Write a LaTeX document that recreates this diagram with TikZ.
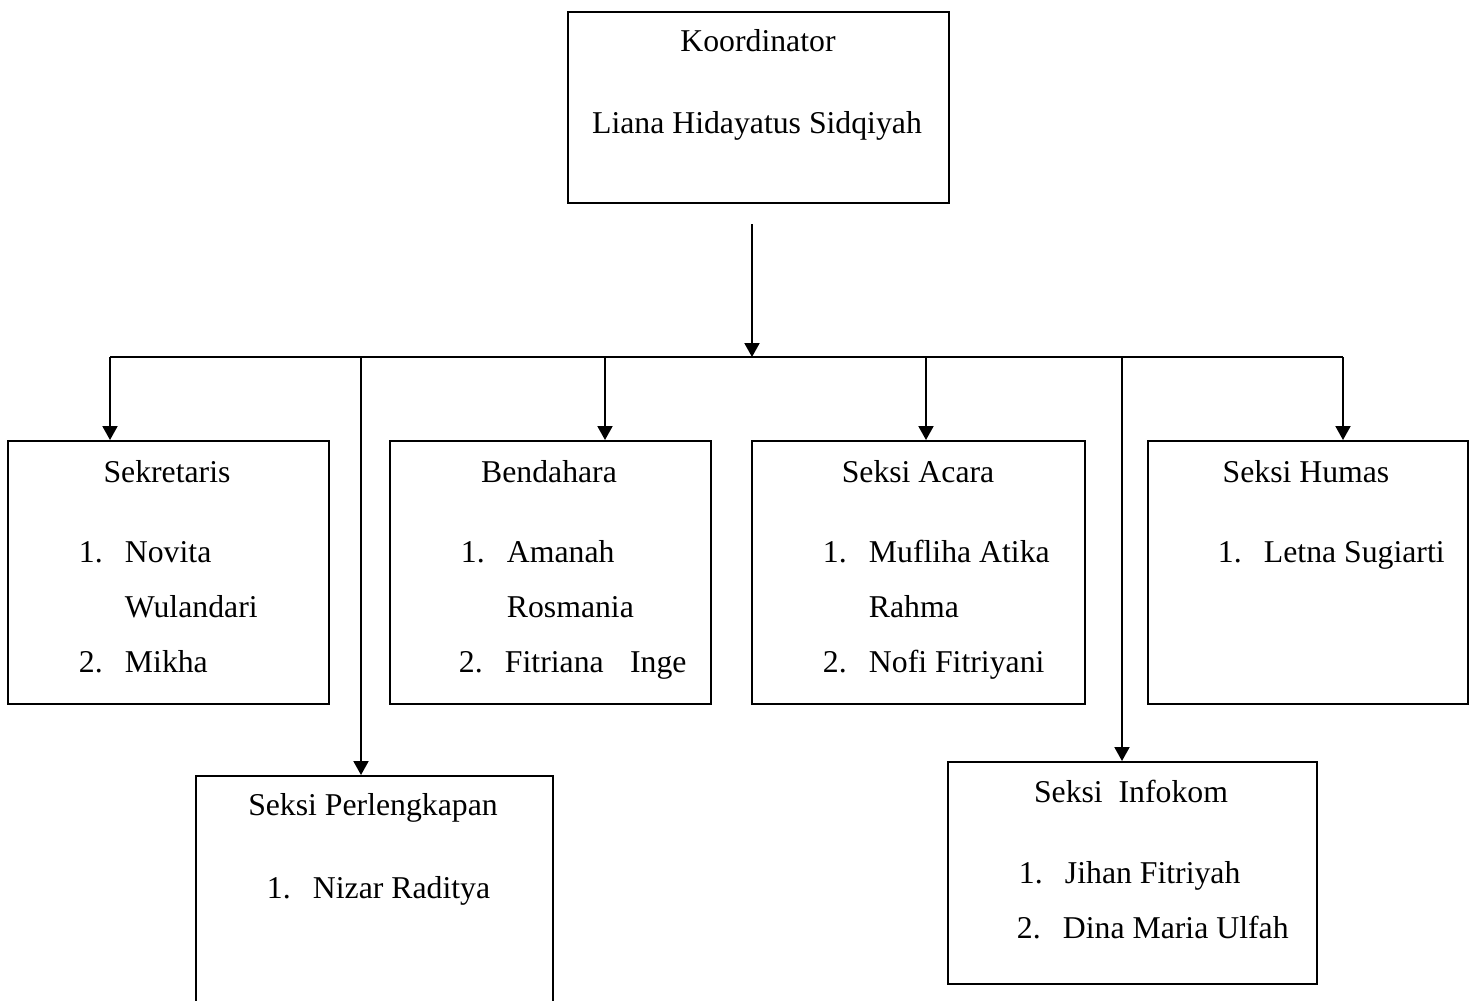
\documentclass[tikz,border=0pt,12pt]{standalone}
\usepackage{fontspec}
\setmainfont{Liberation Serif}
\usetikzlibrary{arrows.meta}

\newcommand{\itemno}[1]{\makebox[17.4pt][l]{#1}}

\begin{document}
\begin{tikzpicture}[x=0.378pt, y=-0.378pt, line width=0.7pt,
  font=\fontsize{12pt}{14pt}\selectfont,
  >={Triangle[width=5.6pt, length=5.2pt]},
  every box/.style={draw, anchor=north west, inner sep=0pt},
  every title/.style={anchor=base, inner sep=0pt},
  every member/.style={anchor=base west, inner sep=0pt}]

\clip (0,0) rectangle (1478,1001);

%% boxes: name/left/top/width/height
\foreach \n/\x/\y/\w/\h in {koordinator/567/11/381/191,
    sekretaris/7/440/321/263, bendahara/389/440/321/263,
    acara/751/440/333/263, humas/1147/440/320/263,
    perlengkapan/195/775/357/260, infokom/947/761/369/222}
  \node [every box, minimum width=\w*0.378pt, minimum height=\h*0.378pt]
    (box-\n) at (\x,\y) {};

%% titles
\foreach \n/\x/\y/\t in {koordinator/758/51/Koordinator,
    nama/757/133/Liana Hidayatus Sidqiyah,
    sekretaris/167/482/Sekretaris, bendahara/549/482/Bendahara,
    acara/918/482/Seksi Acara, humas/1306/482/Seksi Humas,
    perlengkapan/373/815/Seksi Perlengkapan,
    infokom/1131/802/Seksi\ \ Infokom}
  \node [every title] (title-\n) at (\x,\y) {\t};

%% members
\foreach \x/\y/\t [count=\i] in {78/562/\itemno{1.}Novita, 124/617/Wulandari,
    78/672/\itemno{2.}Mikha,
    460/562/\itemno{1.}Amanah, 506/617/Rosmania,
    458/672/\itemno{2.}Fitriana\hspace{10pt}Inge,
    822/562/\itemno{1.}Mufliha Atika, 868/617/Rahma,
    822/672/\itemno{2.}Nofi Fitriyani,
    1217/562/\itemno{1.}Letna Sugiarti,
    266/898/\itemno{1.}Nizar Raditya,
    1018/883/\itemno{1.}Jihan Fitriyah,
    1016/938/\itemno{2.}Dina Maria Ulfah}
  \node [every member] (member-\i) at (\x,\y) {\t};

%% connectors
\coordinate (bus-w) at (110,357);
\coordinate (bus-e) at (1343,357);
\coordinate (koordinator-out) at (752,224);
\draw (bus-w) -- (bus-e);
\draw [->] (koordinator-out) -- (koordinator-out |- bus-w);

\foreach \n/\x in {sekretaris/110, perlengkapan/361, bendahara/605,
    acara/926, infokom/1122, humas/1343} {
  \coordinate (tap-\n) at (\x,357);
  \draw [->] (tap-\n) -- (tap-\n |- box-\n.north);
}

\end{tikzpicture}
\end{document}
